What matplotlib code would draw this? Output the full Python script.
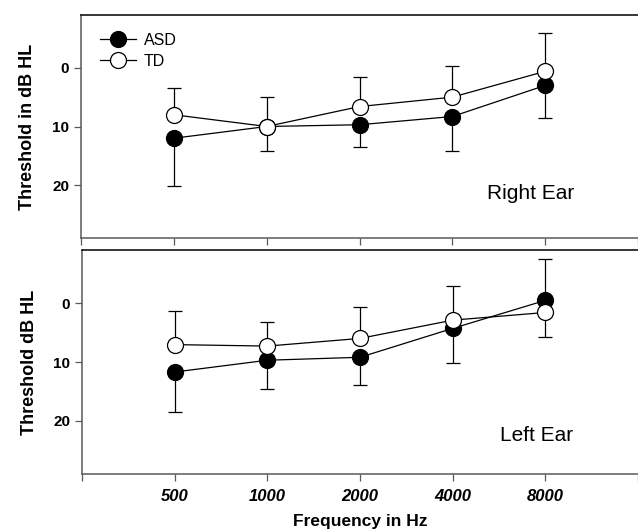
import numpy as np
import matplotlib.pyplot as plt

plt.rcParams['font.family'] = ['Liberation Sans', 'DejaVu Sans']

# Frequencies (Hz) and hearing thresholds (dB HL)
freq_labels = ['500', '1000', '2000', '4000', '8000']

right_asd = [12.0, 10.0, 9.7, 8.3, 3.0]
right_asd_sd = [8.1, 4.2, 3.8, 5.8, 5.6]
right_td = [8.0, 10.0, 6.6, 5.0, 0.6]
right_td_sd = [4.5, 5.0, 5.1, 5.3, 6.6]

left_asd = [11.7, 9.7, 9.2, 4.3, -0.45]
left_asd_sd = [6.8, 4.8, 4.7, 5.8, 6.25]
left_td = [7.05, 7.3, 6.0, 2.9, 1.6]
left_td_sd = [5.65, 4.1, 5.4, 5.8, 9.0]

x = np.arange(1, len(freq_labels) + 1)
zeros = np.zeros(len(x))

fig = plt.figure(figsize=(6.38, 5.30), dpi=100)
ax_r = fig.add_axes([81 / 638, 1 - 238 / 530, 1 - 81 / 638, 223 / 530])
ax_l = fig.add_axes([82 / 638, 1 - 474 / 530, 1 - 82 / 638, 224 / 530])

spine_gray = '#5a5a5a'


def draw_panel(ax, asd, asd_sd, td, td_sd, ear, ylabel, text_xy):
    # one-sided error bars: ASD below, TD above
    ax.errorbar(x, asd, yerr=[zeros, asd_sd], fmt='none', ecolor='black',
                elinewidth=0.9, capsize=5, capthick=0.9, zorder=2)
    ax.errorbar(x, td, yerr=[td_sd, zeros], fmt='none', ecolor='black',
                elinewidth=0.9, capsize=5, capthick=0.9, zorder=2)
    ax.plot(x, asd, color='black', lw=0.9, marker='o', ms=11.5,
            mfc='black', mec='black', mew=0.9, label='ASD', zorder=3)
    ax.plot(x, td, color='black', lw=0.9, marker='o', ms=11.5,
            mfc='white', mec='black', mew=0.9, label='TD', zorder=4)

    ax.set_xlim(0, 6)
    ax.set_ylim(29, -9)
    ax.set_yticks([0, 10, 20])
    ax.set_xticks(np.arange(0, 7))
    ax.tick_params(axis='both', direction='out', length=5, width=0.9,
                   color=spine_gray, labelsize=11)
    for lab in ax.get_yticklabels():
        lab.set_fontweight('bold')
    ax.spines['right'].set_visible(False)
    ax.spines['top'].set_color('black')
    ax.spines['top'].set_linewidth(1.1)
    for side in ['left', 'bottom']:
        ax.spines[side].set_color(spine_gray)
        ax.spines[side].set_linewidth(1.1)
    ax.set_ylabel(ylabel, fontsize=13, fontweight='bold')
    ax.yaxis.set_label_coords(-0.08, 0.5)
    ax.text(text_xy[0], text_xy[1], ear, fontsize=15, ha='center', va='center',
            transform=ax.transAxes)


draw_panel(ax_r, right_asd, right_asd_sd, right_td, right_td_sd,
           'Right Ear', 'Threshold in dB HL', (0.808, 0.20))
draw_panel(ax_l, left_asd, left_asd_sd, left_td, left_td_sd,
           'Left Ear', 'Threshold dB HL', (0.817, 0.17))

ax_r.set_xticklabels([])
ax_l.set_xticklabels([''] + freq_labels + [''], fontweight='bold',
                     fontstyle='italic', fontsize=12)
ax_l.tick_params(axis='x', pad=6)
ax_l.set_xlabel('Frequency in Hz', fontsize=12.5, fontweight='bold', labelpad=7)

ax_r.legend(loc='upper left', bbox_to_anchor=(0.022, 0.95), frameon=False,
            fontsize=11.5, handlelength=2.3, handletextpad=0.45,
            labelspacing=0.4, borderaxespad=0)

fig.savefig('out.png', dpi=100)
